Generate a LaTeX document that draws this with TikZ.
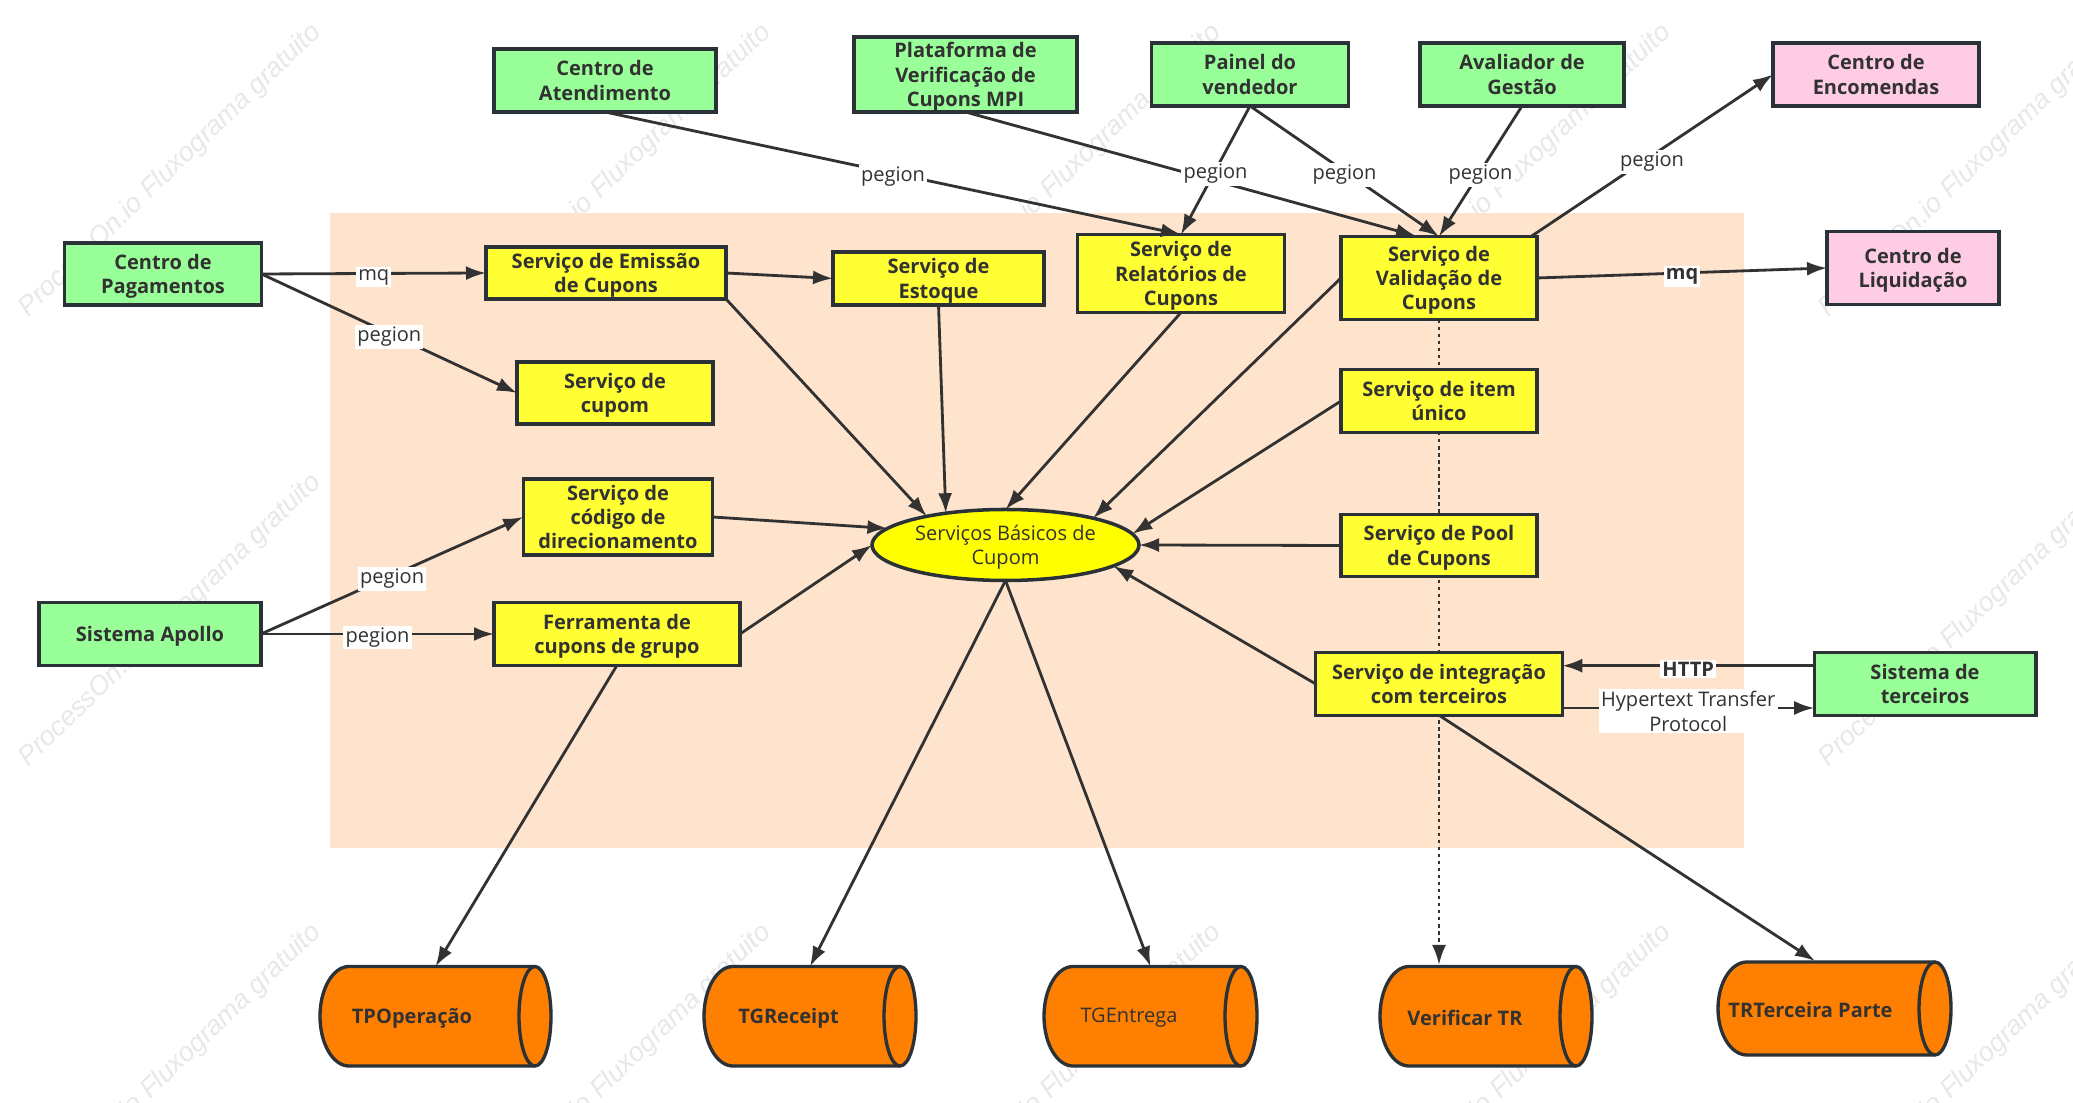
\documentclass[tikz,border=0pt]{standalone}
\usepackage{fontspec}
\setmainfont{Open Sans}
\newfontfamily\markfont{Liberation Sans}
\usetikzlibrary{arrows.meta,shapes.geometric}
\definecolor{inkdark}{HTML}{323232}
\definecolor{edgedark}{HTML}{2A3238}
\definecolor{peachbg}{HTML}{FEE4CC}
\definecolor{boxgreen}{HTML}{99FF99}
\definecolor{boxyellow}{HTML}{FFFF33}
\definecolor{corefill}{HTML}{FFFF00}
\definecolor{boxpink}{HTML}{FFCCE6}
\definecolor{boxorange}{HTML}{FF8000}
\tikzset{
	basebox/.style={draw=edgedark,line width=.95pt,align=center,inner sep=0pt,outer sep=0pt,text=inkdark,text depth=0pt,font=\fontsize{5.7}{6.9}\selectfont\bfseries},
	outerbox/.style={basebox,fill=boxgreen},
	svcbox/.style={basebox,fill=boxyellow},
	sinkbox/.style={basebox,fill=boxpink},
	drumbox/.style={rectangle,inner sep=0pt,outer sep=0pt},
	drumline/.style={draw=edgedark,line width=.95pt},
	dbtext/.style={text=inkdark,inner sep=0pt,font=\fontsize{5.7}{6.9}\selectfont\bfseries},
	link/.style={draw=inkdark,line width=.8pt,-{Latex[length=2mm,width=1.4mm]}},
	tag/.style={fill=white,text=inkdark,inner sep=.6pt,align=center,yshift=-.035cm,font=\fontsize{5.7}{6.9}\selectfont},
	boldtag/.style={tag,font=\fontsize{5.7}{6.9}\selectfont\bfseries},
	wmark/.style={rotate=44,text=black!9,font=\markfont\fontsize{7.65}{9}\selectfont\itshape}
}
\begin{document}
\begin{tikzpicture}
		\clip (0,0) rectangle (20.73,11.03);
		\fill[white] (0,0) rectangle (20.73,11.03);
		
		% watermark tiles
		\foreach \i in {0,...,4}
			\foreach \j in {0,...,2}
				\node[wmark] (wm\i\j) at ({1.705+4.5*\i},{9.325-4.5*\j}) {ProcessOn.io Fluxograma gratuito};
		
		\fill[peachbg] (3.30,2.55) rectangle (17.44,8.90);
		
		% outer systems
		\node[outerbox,minimum width=2.22cm,minimum height=.63cm] (ate) at (6.05,10.225) {Centro de\\Atendimento};
		\node[outerbox,minimum width=2.23cm,minimum height=.75cm] (pla) at (9.655,10.285) {Plataforma de\\Verificação de\\Cupons MPI};
		\node[outerbox,minimum width=1.97cm,minimum height=.63cm] (pai) at (12.50,10.285) {Painel do\\vendedor};
		\node[outerbox,minimum width=2.04cm,minimum height=.63cm] (ava) at (15.22,10.285) {Avaliador de\\Gestão};
		\node[sinkbox,minimum width=2.06cm,minimum height=.63cm] (enc) at (18.76,10.285) {Centro de\\Encomendas};
		\node[outerbox,minimum width=1.97cm,minimum height=.62cm] (pag) at (1.63,8.29) {Centro de\\Pagamentos};
		\node[sinkbox,minimum width=1.72cm,minimum height=.73cm] (liq) at (19.13,8.35) {Centro de\\Liquidação};
		\node[outerbox,minimum width=2.22cm,minimum height=.625cm] (apo) at (1.50,4.69) {Sistema Apollo};
		\node[outerbox,minimum width=2.216cm,minimum height=.625cm] (sis) at (19.25,4.19) {Sistema de\\terceiros};
		
		% dotted line goes behind the lower service boxes
		\node[svcbox,minimum width=1.96cm,minimum height=.83cm] (val) at (14.39,8.25) {Serviço de\\Validação de\\Cupons};
		\coordinate (verin) at (14.39,1.38);
		\draw[link,dash pattern=on 1pt off 1pt] (val.south) -- (verin);
		
		% services
		\node[svcbox,minimum width=2.40cm,minimum height=.52cm] (emi) at (6.06,8.30) {Serviço de Emissão\\de Cupons};
		\node[svcbox,minimum width=2.11cm,minimum height=.53cm] (est) at (9.385,8.245) {Serviço de\\Estoque};
		\node[svcbox,minimum width=2.075cm,minimum height=.78cm] (rel) at (11.81,8.295) {Serviço de\\Relatórios de\\Cupons};
		\node[svcbox,minimum width=1.96cm,minimum height=.62cm] (cup) at (6.15,7.10) {Serviço de\\cupom};
		\node[svcbox,minimum width=1.96cm,minimum height=.625cm] (uni) at (14.39,7.02) {Serviço de item\\único};
		\node[svcbox,minimum width=1.895cm,minimum height=.76cm] (cod) at (6.18,5.86) {Serviço de\\código de\\direcionamento};
		\node[svcbox,minimum width=1.96cm,minimum height=.62cm] (poo) at (14.39,5.575) {Serviço de Pool\\de Cupons};
		\node[svcbox,minimum width=2.46cm,minimum height=.625cm] (fer) at (6.17,4.69) {Ferramenta de\\cupons de grupo};
		\node[svcbox,minimum width=2.465cm,minimum height=.625cm] (int) at (14.39,4.19) {Serviço de integração\\com terceiros};
		\node[basebox,fill=corefill,ellipse,line width=1pt,font=\fontsize{5.7}{6.9}\selectfont,minimum width=2.67cm,minimum height=.71cm] (core) at (10.055,5.58) {Serviços Básicos de\\Cupom};
		
		% tables
		\node[drumbox,minimum width=2.31cm,minimum height=.995cm] (tpo) at (4.355,.8675) {};
		\node[drumbox,minimum width=2.12cm,minimum height=.995cm] (tgr) at (8.10,.8675) {};
		\node[drumbox,minimum width=2.13cm,minimum height=.995cm] (tge) at (11.505,.8675) {};
		\node[drumbox,minimum width=2.12cm,minimum height=.995cm] (ver) at (14.86,.8675) {};
		\node[drumbox,minimum width=2.33cm,minimum height=.93cm] (trt) at (18.345,.945) {};
		\foreach \n/\ry in {tpo/.4975,tgr/.4975,tge/.4975,ver/.4975,trt/.465} {
			\draw[drumline,fill=boxorange] ([xshift=.29cm]\n.north west) -- ([xshift=-.16cm]\n.north east) arc (90:-90:.16 and \ry) -- ([xshift=.29cm]\n.south west) arc (270:90:.29 and \ry) -- cycle;
			\draw[drumline] ([xshift=-.16cm]\n.north east) arc (90:270:.16 and \ry);
		}
		\node[dbtext] (tpotext) at (4.12,.85) {TPOperação};
		\node[dbtext] (tgrtext) at (7.885,.85) {TGReceipt};
		\node[dbtext,font=\fontsize{5.7}{6.9}\selectfont] (tgetext) at (11.29,.85) {TGEntrega};
		\node[dbtext] (vertext) at (14.65,.85) {Verificar TR};
		\node[dbtext] (trttext) at (18.105,.93) {TRTerceira Parte};
		
		\coordinate (trtin) at (18.15,1.42);
		\coordinate (plain) at (14.16,8.67);
		
		\draw[link] (pla.south) -- (plain);
		\draw[link] (ate.south) -- node[tag]{pegion} (rel.north);
		\draw[link] (pai.south) -- node[tag]{pegion} (rel.north);
		\draw[link] (pai.south) -- node[tag]{pegion} (val.north);
		\draw[link] (ava.south) -- node[tag]{pegion} (val.north);
		\draw[link] ([xshift=-.06cm]val.north east) -- node[tag,yshift=-.03cm]{pegion} (enc.west);
		\draw[link] (val.east) -- node[boldtag]{mq} (liq.west);
		
		\draw[link] (pag.east) -- node[tag]{mq} (emi.west);
		\draw[link] (pag.east) -- node[tag]{pegion} (cup.west);
		\draw[link] (apo.east) -- node[tag]{pegion} (cod.west);
		\draw[link] (apo.east) -- node[tag]{pegion} (fer.west);
		\draw[link] (emi.east) -- (est.west);
		
		\draw[link] (emi.south east) -- (core.160);
		\draw[link] (est.south) -- (core.152);
		\draw[link] (rel.south) -- (core.north);
		\draw[link] (val.west) -- (core.17);
		\draw[link] (uni.west) -- (core.5);
		\draw[link] (poo.west) -- (core.east);
		\draw[link] (int.west) -- (core.-11);
		\draw[link] (cod.east) -- (core.172);
		\draw[link] (fer.east) -- (core.west);
		
		\draw[link] (fer.south) -- (tpo.north);
		\draw[link] (core.south) -- (tgr.north);
		\draw[link] (core.south) -- (tge.north);
		\draw[link] (int.south) -- (trtin);
		
		\draw[link] ([yshift=.183cm]sis.west) -- node[boldtag]{HTTP} ([yshift=.183cm]int.east);
		\draw[link] ([yshift=-.24cm]int.east) -- node[tag]{Hypertext Transfer\\Protocol} ([yshift=-.24cm]sis.west);
\end{tikzpicture}
\end{document}
